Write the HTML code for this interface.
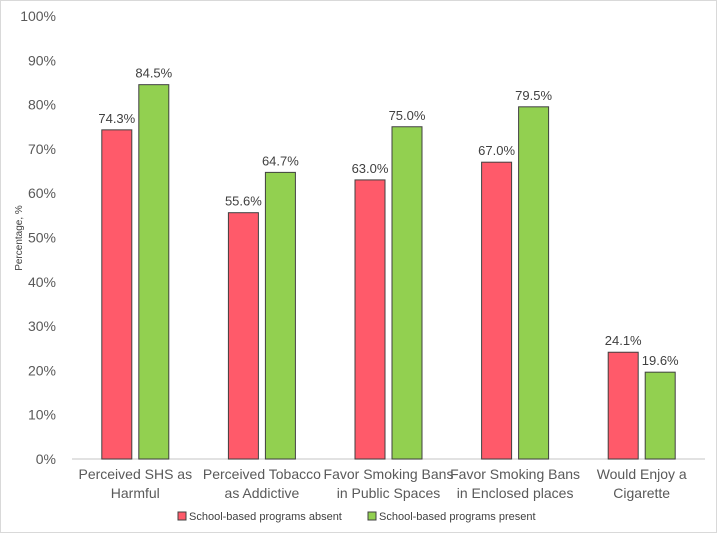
<!DOCTYPE html>
<html><head><meta charset="utf-8"><style>
body{margin:0;background:#fff;}
svg{display:block;font-family:"Liberation Sans",sans-serif;}
</style></head><body>
<svg width="717" height="533">
<rect x="0.5" y="0.5" width="716" height="532" fill="#fff" stroke="#d9d9d9"/>
<g id="g"></g>
</svg>
<script>
const categories=[["Perceived SHS as","Harmful"],["Perceived Tobacco","as Addictive"],["Favor Smoking Bans","in Public Spaces"],["Favor Smoking Bans","in Enclosed places"],["Would Enjoy a","Cigarette"]];
const absent=[74.3,55.6,63.0,67.0,24.1];
const present=[84.5,64.7,75.0,79.5,19.6];
const ticks=[0,10,20,30,40,50,60,70,80,90,100];
const g=document.getElementById('g');
const NS='http://www.w3.org/2000/svg';
const x0=72,x1=705,y0=459,y100=16;
const yS=v=>y0-(y0-y100)*v/100;
const cw=(x1-x0)/categories.length;
const cx=i=>x0+cw*(i+0.5);
function el(t,a,txt){const e=document.createElementNS(NS,t);for(const k in a)e.setAttribute(k,a[k]);if(txt!=null)e.textContent=txt;g.appendChild(e);return e;}
ticks.forEach(t=>{
const e=el('text',{x:56,y:yS(t)+5,'text-anchor':'end','font-size':14,fill:'#595959'},t+'%');


});
const ax=el('line',{x1:x0,x2:x1,y1:y0,y2:y0,stroke:'#d9d9d9','stroke-width':1.5});


const yt=el('text',{x:22,y:238,'text-anchor':'middle','font-size':10,fill:'#404040',transform:'rotate(-90 22 238)'},'Percentage, %');


const bw=30,gap=7;
categories.forEach((c,i)=>{
[[absent,'#ff5a6a',-1],[present,'#92d050',1]].forEach(([s,col,d])=>{
const v=s[i];const bx=d<0?cx(i)-gap/2-bw:cx(i)+gap/2;
const r=el('rect',{x:bx,y:yS(v),width:bw,height:y0-yS(v),fill:col,stroke:'#404040','stroke-width':1});


const l=el('text',{x:bx+bw/2,y:yS(v)-7,'text-anchor':'middle','font-size':13,fill:'#404040'},v.toFixed(1)+'%');


});
c.forEach((line,j)=>{
const t=el('text',{x:cx(i),y:479+j*19,'text-anchor':'middle','font-size':14,fill:'#595959'},line);


});
});
[['School-based programs absent','#ff5a6a',178],['School-based programs present','#92d050',368]].forEach(([n,col,lx])=>{
const r=el('rect',{x:lx,y:512,width:8,height:8,fill:col,stroke:'#404040'});


const t=el('text',{x:lx+11,y:520,'font-size':11,fill:'#404040'},n);


});
</script>
</body></html>
